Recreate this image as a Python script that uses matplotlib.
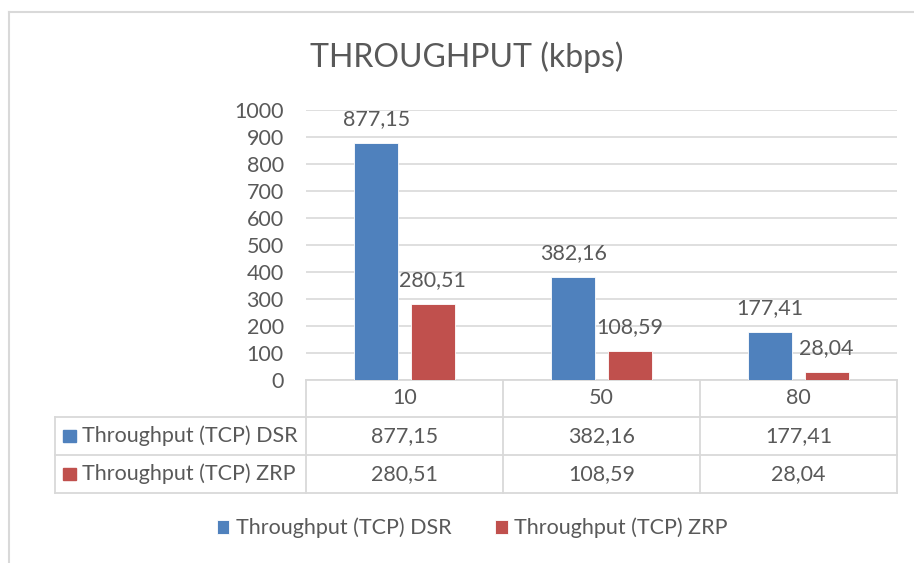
"""Throughput bar chart with data table."""

import numpy as np
import matplotlib
matplotlib.use('Agg')
import matplotlib.pyplot as plt
from matplotlib.lines import Line2D

plt.rcParams['font.family'] = ['Lato', 'DejaVu Sans']

# data
categories = ['10', '50', '80']
series_names = ['Throughput (TCP) DSR', 'Throughput (TCP) ZRP']
dsr = [877.15, 382.16, 177.41]
zrp = [280.51, 108.59, 28.04]
yticks = [0, 100, 200, 300, 400, 500, 600, 700, 800, 900, 1000]

blue = '#4F81BD'
red = '#C0504D'
txt = '#595959'
grid = '#D9D9D9'
fs = 15.5


def fmt(v):
    return f'{v:.2f}'.replace('.', ',')


W, H = 914, 563
fig = plt.figure(figsize=(W / 100, H / 100), dpi=100)

# axes placement in pixels (left, top, right, bottom)
L, T, R, B = 306, 110, 897, 380
ax = fig.add_axes([L / W, 1 - B / H, (R - L) / W, (B - T) / H])

x = np.arange(len(categories))
bw = 0.225
off = 0.143
b1 = ax.bar(x - off, dsr, bw, color=blue, edgecolor='white', linewidth=0.6,
            label=series_names[0], zorder=3)
b2 = ax.bar(x + off, zrp, bw, color=red, edgecolor='white', linewidth=0.6,
            label=series_names[1], zorder=3)

for bars, vals in ((b1, dsr), (b2, zrp)):
    for rect, v in zip(bars, vals):
        ax.annotate(fmt(v), (rect.get_x() + rect.get_width() / 2, v),
                    xytext=(0, 10), textcoords='offset points',
                    ha='center', va='bottom', fontsize=fs, color=txt)

ax.set_xlim(-0.5, len(categories) - 0.5)
ax.set_ylim(0, 1000)
ax.set_yticks(yticks)
ax.set_xticks([])
ax.tick_params(axis='y', length=0, pad=16, labelsize=fs, labelcolor=txt)
for s in ax.spines.values():
    s.set_visible(False)
ax.grid(axis='y', color=grid, linewidth=1.2, zorder=0)
ax.set_axisbelow(True)

# data table under the axes (axes-fraction coordinates)
aw, ah = R - L, B - T
def fx(px):
    return (px - L) / aw
def fy(py):
    return (B - py) / ah

rows = [380, 417, 455, 493]
kw = dict(transform=ax.transAxes, clip_on=False, color=grid, linewidth=1.3)
# horizontal lines
ax.add_line(Line2D([0, 1], [fy(rows[0])] * 2, **kw))
for r in rows[1:]:
    ax.add_line(Line2D([fx(55), 1], [fy(r)] * 2, **kw))
# vertical lines
for i in range(len(categories) + 1):
    ax.add_line(Line2D([i / len(categories)] * 2, [fy(rows[0]), fy(rows[-1])], **kw))
ax.add_line(Line2D([fx(55)] * 2, [fy(rows[1]), fy(rows[-1])], **kw))

ncat = len(categories)
for i, c in enumerate(categories):
    cx = (i + 0.5) / ncat
    ax.text(cx, fy((rows[0] + rows[1]) / 2), c, transform=ax.transAxes,
            ha='center', va='center', fontsize=fs, color=txt)
    for j, vals in enumerate((dsr, zrp)):
        ax.text(cx, fy((rows[j + 1] + rows[j + 2]) / 2), fmt(vals[i]),
                transform=ax.transAxes, ha='center', va='center',
                fontsize=fs, color=txt)

for j, (name, col) in enumerate(zip(series_names, (blue, red))):
    yc = (rows[j + 1] + rows[j + 2]) / 2
    ax.add_patch(plt.Rectangle((fx(63), fy(yc + 6)), 13 / aw, 12 / ah,
                               transform=ax.transAxes, clip_on=False,
                               color=col))
    ax.text(fx(82), fy(yc), name, transform=ax.transAxes, ha='left',
            va='center', fontsize=fs, color=txt)

# title
fig.text(467 / W, 1 - 57 / H, 'THROUGHPUT (kbps)', ha='center', va='center',
         fontsize=23, color=txt)

# legend
fig.legend(handles=[b1, b2], loc='center', bbox_to_anchor=(472 / W, 1 - 528 / H),
           ncol=2, frameon=False, fontsize=fs, handlelength=0.6,
           handleheight=0.6, handletextpad=0.3, columnspacing=2.0,
           labelcolor=txt)

# chart border
fig.add_artist(Line2D([9 / W, 9 / W], [0, 1 - 12 / H], color=grid, linewidth=1.5))
fig.add_artist(Line2D([9 / W, 1], [1 - 12 / H, 1 - 12 / H], color=grid, linewidth=1.5))

fig.savefig('out.png', dpi=100)
